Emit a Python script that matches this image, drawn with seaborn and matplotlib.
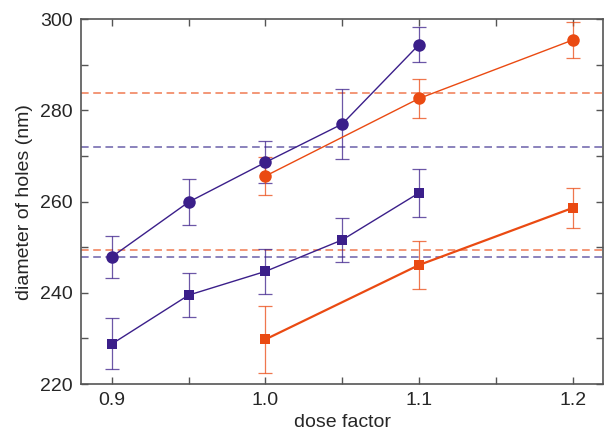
import numpy as np
import pandas as pd
import matplotlib
matplotlib.use("Agg")
import matplotlib.pyplot as plt
import seaborn as sns

# dose factor vs hole diameter, two materials (purple / orange), two hole types
dose_purple = [0.9, 0.95, 1.0, 1.05, 1.1]
dose_orange = [1.0, 1.1, 1.2]

purple_circle = [247.9, 259.9, 268.6, 277.0, 294.4]
purple_circle_err = [4.6, 5.0, 4.6, 7.6, 3.9]
purple_square = [228.8, 239.5, 244.7, 251.6, 261.9]
purple_square_err = [5.6, 4.8, 5.0, 4.8, 5.2]

orange_circle = [265.6, 282.6, 295.4]
orange_circle_err = [4.2, 4.2, 3.9]
orange_square = [229.8, 246.1, 258.6]
orange_square_err = [7.3, 5.3, 4.4]

# horizontal reference levels (dashed)
ref_orange = [283.8, 249.4]
ref_purple = [272.0, 247.9]

PURPLE = "#3b1f8a"
ORANGE = "#ea4a12"

sns.set_theme(style="ticks")
plt.rcParams['font.family'] = ['Liberation Sans', 'DejaVu Sans']

fig = plt.figure(figsize=(6.1, 4.34), dpi=100)
ax = fig.add_axes([0.133, 0.115, 0.856, 0.841])

for y in ref_orange:
    ax.axhline(y, color="#f07a52", ls=(0, (5, 3)), lw=1.1, zorder=1)
for y in ref_purple:
    ax.axhline(y, color="#6b60aa", ls=(0, (5, 3)), lw=1.1, zorder=1)

series = [
    (dose_purple, purple_circle, purple_circle_err, PURPLE, "o", 9, 1.0),
    (dose_purple, purple_square, purple_square_err, PURPLE, "s", 7.5, 1.0),
    (dose_orange, orange_circle, orange_circle_err, ORANGE, "o", 9, 1.0),
    (dose_orange, orange_square, orange_square_err, ORANGE, "s", 7.5, 1.6),
]
for x, y, err, col, mk, ms, lw in series:
    df = pd.DataFrame({"dose": x, "diam": y})
    ax.errorbar(x, y, yerr=err, fmt="none", ecolor=col, elinewidth=0.9,
                capsize=5, capthick=0.9, alpha=0.75, zorder=2)
    sns.lineplot(data=df, x="dose", y="diam", ax=ax, color=col, lw=lw,
                 marker=mk, markersize=ms, markeredgewidth=0, zorder=3)

ax.set_xlim(0.88, 1.22)
ax.set_ylim(220, 300)
ax.set_xticks([0.9, 1.0, 1.1, 1.2])
ax.set_xticklabels(["0.9", "1.0", "1.1", "1.2"])
ax.set_xticks([0.95, 1.05, 1.15], minor=True)
ax.set_yticks([220, 240, 260, 280, 300])
ax.set_yticks([230, 250, 270, 290], minor=True)
ax.tick_params(which="both", direction="in", top=True, right=True,
               length=5, width=1, color="#555555", labelsize=14, pad=6)
for s in ax.spines.values():
    s.set_color("#555555")
    s.set_linewidth(1.2)
ax.set_xlabel("dose factor", fontsize=14, labelpad=3)
ax.set_ylabel("diameter of holes (nm)", fontsize=14, labelpad=5)

fig.savefig("out.png", dpi=100)
